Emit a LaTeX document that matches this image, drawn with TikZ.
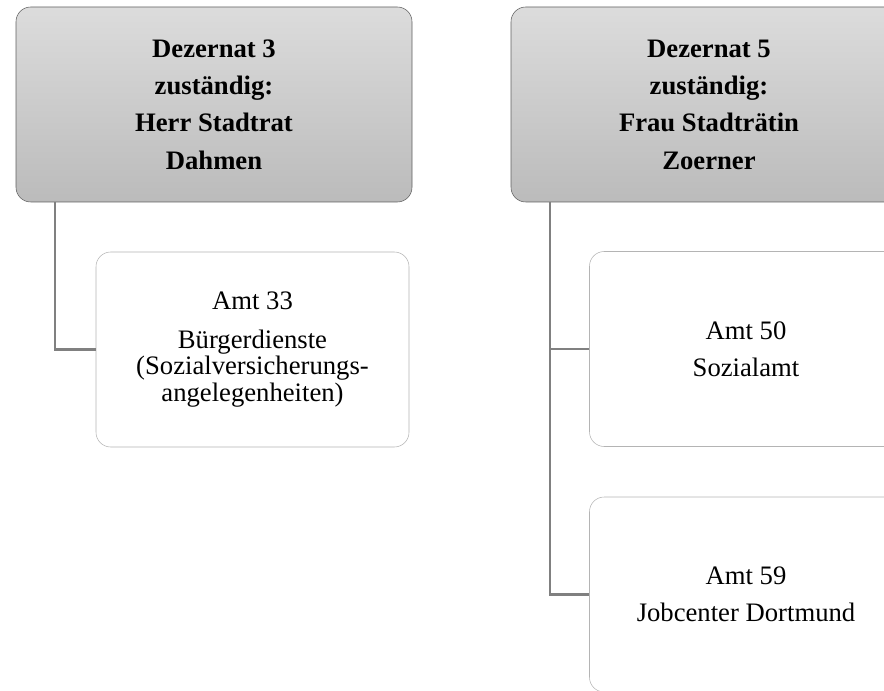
\documentclass[tikz,border=0pt]{standalone}
\usepackage{fontspec}
\setmainfont{Liberation Serif}
\usetikzlibrary{positioning}

\definecolor{headtop}{HTML}{DCDCDC}
\definecolor{headbot}{HTML}{BBBBBB}
\definecolor{headline}{HTML}{606060}
\definecolor{amtline}{HTML}{B4B4B4}
\definecolor{linkline}{HTML}{808080}

\begin{document}
\begin{tikzpicture}[x=0.75pt, y=-0.75pt,
            head/.style={rectangle, rounded corners=11pt, draw=headline, top color=headtop, bottom color=headbot, minimum width=297pt, minimum height=146.25pt, text centered, align=center, font=\fontsize{20}{28}\selectfont\bfseries},
            amt/.style={rectangle, rounded corners=11pt, draw=amtline, fill=white, minimum width=234.75pt, minimum height=146.25pt, text centered, align=center, font=\fontsize{20}{20}\selectfont},
            link/.style={draw=linkline, line width=1.6pt}
        ]
            \useasboundingbox (0,0) rectangle (884,691);
            \clip (0,0) rectangle (884,691);
            \node[head] (dez3) at (214,104.5) {Dezernat 3\\zuständig:\\Herr Stadtrat\\Dahmen};
            \node[amt] (amt33) at (252.5,349.5) {Amt 33\\[9pt]Bürgerdienste\\(Sozialversicherungs-\\angelegenheiten)};
            \node[head] (dez5) at (709,104.5) {Dezernat 5\\zuständig:\\Frau Stadträtin\\Zoerner};
            \node[amt] (amt50) at (746,349) {Amt 50\\[8pt]Sozialamt};
            \node[amt] (amt59) at (746,594.5) {Amt 59\\[8pt]Jobcenter Dortmund};
            
            \draw[link] ([xshift=29.25pt]dez3.south west) |- (amt33.west);
            \draw[link] ([xshift=29.25pt]dez5.south west) |- (amt50.west);
            \draw[link] ([xshift=29.25pt]dez5.south west) |- (amt59.west);
        \end{tikzpicture}
\end{document}
